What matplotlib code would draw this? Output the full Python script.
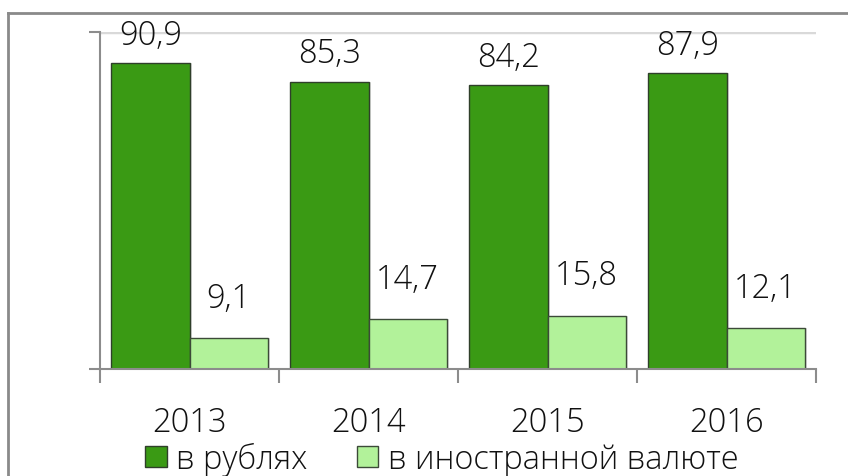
import numpy as np
import matplotlib
matplotlib.use('Agg')
import matplotlib.pyplot as plt

years = ['2013', '2014', '2015', '2016']
rub = [90.9, 85.3, 84.2, 87.9]
fx = [9.1, 14.7, 15.8, 12.1]
rub_label = 'в рублях'
fx_label = 'в иностранной валюте'

plt.rcParams['font.family'] = ['Open Sans', 'DejaVu Sans']

dark = '#3a9a14'
light = '#b2f29a'
txt = '#111111'
fs = 23.5

fig = plt.figure(figsize=(8.48, 4.77), dpi=100)
ax = fig.add_axes([100/848, 1-370/477, 716/848, 337/477])

x = np.arange(len(years))
w = 0.436
# soft shadow behind bars
for xs, vals in ((x - w/2, rub), (x + w/2, fx)):
    ax.bar(xs + 0.012, vals, w, color='#000000', alpha=0.12, zorder=1, linewidth=0)
b1 = ax.bar(x - w/2, rub, w, color=dark, edgecolor='#2f3f2a', linewidth=1.0, zorder=2, label=rub_label)
b2 = ax.bar(x + w/2, fx, w, color=light, edgecolor='#3c4a38', linewidth=1.0, zorder=2, label=fx_label)

for xi, v in zip(x, rub):
    ax.annotate(f'{v:.1f}'.replace('.', ','), (xi - w/2, v), xytext=(0, 8),
                textcoords='offset points', ha='center', va='bottom',
                fontsize=fs, fontweight='light', color=txt)
for xi, v in zip(x, fx):
    ax.annotate(f'{v:.1f}'.replace('.', ','), (xi + w/2, v), xytext=(0, 17),
                textcoords='offset points', ha='center', va='bottom',
                fontsize=fs, fontweight='light', color=txt)

ax.set_xlim(-0.5, len(years) - 0.5)
ax.set_ylim(0, 100)
ax.axhline(100, color='#d9d9d9', linewidth=2.5, zorder=0)

for s in ['top', 'right']:
    ax.spines[s].set_visible(False)
for s in ['left', 'bottom']:
    ax.spines[s].set_color('#8c8c8c')
    ax.spines[s].set_linewidth(1.5)

ax.set_yticks([0, 100])
ax.set_yticklabels([])
ax.tick_params(axis='y', length=8, width=1.5, color='#8c8c8c')
ax.set_xticks(np.arange(len(years) + 1) - 0.5)
ax.set_xticklabels([])
ax.tick_params(axis='x', which='major', length=10, width=1.5, color='#8c8c8c')
ax.set_xticks(x, minor=True)
ax.set_xticklabels(years, minor=True)
ax.tick_params(axis='x', which='minor', length=0, pad=26, labelsize=fs, labelcolor=txt)
for t in ax.get_xticklabels(minor=True):
    t.set_fontweight('light')

leg = fig.legend(handles=[b1, b2], labels=[rub_label, fx_label], loc='center',
                 bbox_to_anchor=(0.521, 1 - 460/477), ncol=2, frameon=False,
                 fontsize=fs, handlelength=0.65, handleheight=0.65,
                 handletextpad=0.3, columnspacing=1.5, borderpad=0)
for t in leg.get_texts():
    t.set_fontweight('light')
    t.set_color(txt)

# outer chart frame (cropped at right and bottom)
fig.add_artist(plt.Line2D([8/848, 8/848], [0, 1 - 14/477], transform=fig.transFigure,
                          color='#8a8a8a', linewidth=2))
fig.add_artist(plt.Line2D([8/848, 1], [1 - 14/477, 1 - 14/477], transform=fig.transFigure,
                          color='#8a8a8a', linewidth=2))

fig.savefig('out.png', dpi=100)
